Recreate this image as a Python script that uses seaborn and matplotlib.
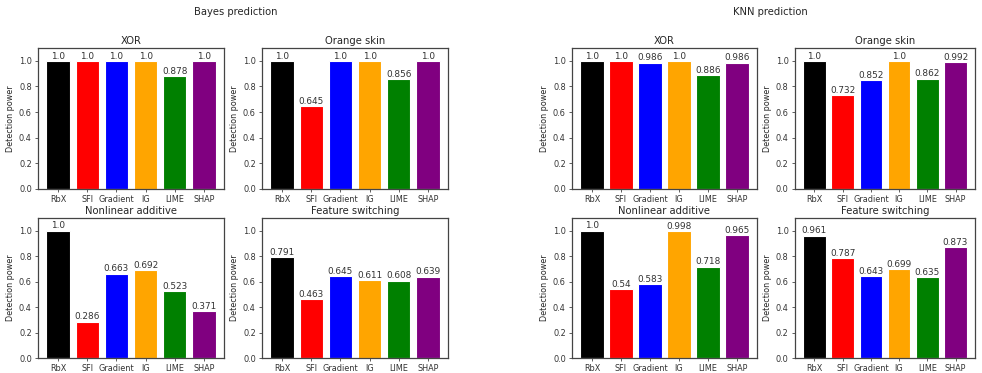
import matplotlib
matplotlib.use("Agg")
import matplotlib.pyplot as plt
import seaborn as sns

METHODS = ["RbX", "SFI", "Gradient", "IG", "LIME", "SHAP"]
COLORS = ["black", "red", "blue", "orange", "green", "purple"]
SCENARIOS = ["XOR", "Orange skin", "Nonlinear additive", "Feature switching"]

bayes_xor = [1.0, 1.0, 1.0, 1.0, 0.878, 1.0]
bayes_orange = [1.0, 0.645, 1.0, 1.0, 0.856, 1.0]
bayes_nonlin = [1.0, 0.286, 0.663, 0.692, 0.523, 0.371]
bayes_switch = [0.791, 0.463, 0.645, 0.611, 0.608, 0.639]

knn_xor = [1.0, 1.0, 0.986, 1.0, 0.886, 0.986]
knn_orange = [1.0, 0.732, 0.852, 1.0, 0.862, 0.992]
knn_nonlin = [1.0, 0.54, 0.583, 0.998, 0.718, 0.965]
knn_switch = [0.961, 0.787, 0.643, 0.699, 0.635, 0.873]

sns.set_theme(style="ticks")
plt.rcParams.update({
    "font.family": ["DejaVu Sans"],
    "text.color": "#262626",
    "axes.edgecolor": "#444444",
    "axes.linewidth": 0.9,
    "xtick.color": "#444444",
    "ytick.color": "#444444",
    "xtick.labelcolor": "#333333",
    "ytick.labelcolor": "#333333",
})

W, H = 982, 373
fig = plt.figure(figsize=(W / 100, H / 100), dpi=100)


def px_axes(x0, x1, ytop, ybot):
    return fig.add_axes([x0 / W, 1 - ybot / H, (x1 - x0) / W, (ybot - ytop) / H])


def panel(ax, title, vals):
    sns.barplot(x=METHODS, y=vals, hue=METHODS, palette=COLORS, legend=False,
                edgecolor="white", linewidth=0.8, width=0.8, saturation=1, ax=ax)
    for c, v in zip(ax.containers, vals):
        ax.bar_label(c, labels=[str(v)], padding=0.2, fontsize=6.4, color="#333333")
    ax.set_ylim(0, 1.1)
    ax.set_xlim(-0.69, 5.69)
    ax.set_yticks([0, 0.2, 0.4, 0.6, 0.8, 1.0])
    ax.set_ylabel("Detection power", fontsize=5.8, labelpad=3)
    ax.set_xlabel("")
    ax.set_title(title, fontsize=7.2, pad=3)
    ax.tick_params(labelsize=5.9, length=2.5, width=0.6, pad=2)


groups = [
    ("Bayes prediction", 236, [(38, 224), (262, 448)],
     [bayes_xor, bayes_orange, bayes_nonlin, bayes_switch]),
    ("KNN prediction", 770, [(572, 757), (795, 975)],
     [knn_xor, knn_orange, knn_nonlin, knn_switch]),
]
rows = [(48, 189), (218, 358)]

for name, cx, cols, data in groups:
    fig.text(cx / W, 1 - 12 / H, name, ha="center", va="center", fontsize=7.2)
    k = 0
    for ytop, ybot in rows:
        for x0, x1 in cols:
            ax = px_axes(x0, x1, ytop, ybot)
            panel(ax, SCENARIOS[k], data[k])
            k += 1

fig.savefig("out.png", dpi=100, facecolor="white")
